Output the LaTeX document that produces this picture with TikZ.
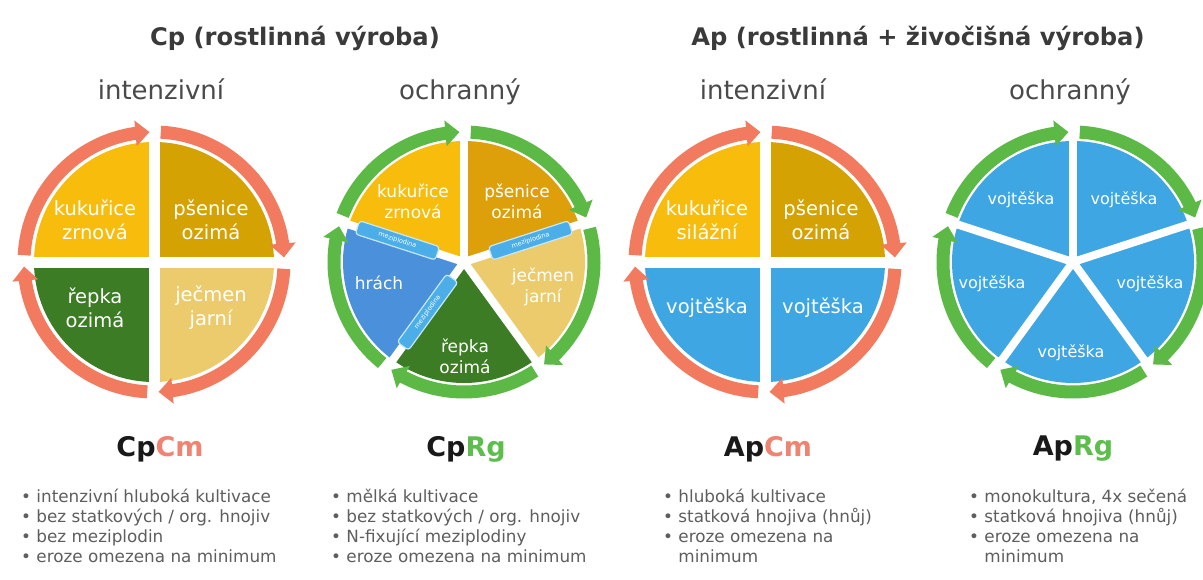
\documentclass[tikz,border=0pt]{standalone}
\usepackage{fontspec}
\setmainfont{DejaVu Sans}
\usetikzlibrary{arrows.meta,bending}
\definecolor{ringred}{HTML}{F27B5F}
\definecolor{ringgreen}{HTML}{5CB946}
\definecolor{kuk}{HTML}{F7BC0C}
\definecolor{pse}{HTML}{D4A203}
\definecolor{psetwo}{HTML}{DDA00A}
\definecolor{jec}{HTML}{ECCB6C}
\definecolor{rep}{HTML}{3B7C24}
\definecolor{vojt}{HTML}{3EA6E3}
\definecolor{hrach}{HTML}{4A90DA}
\definecolor{mezi}{HTML}{4CAEE9}
\definecolor{mezib}{HTML}{C4E8FB}
\definecolor{titlegray}{HTML}{3A3A3A}
\definecolor{subgray}{HTML}{4A4A4A}
\definecolor{bulgray}{HTML}{5E5E5E}
\definecolor{cmred}{HTML}{F08472}
\definecolor{rggreen}{HTML}{5DBE4E}
\newcommand{\myfs}[2]{\fontsize{#1}{#2}\selectfont}
\tikzset{
  ringarrow/.style={line width=13pt, -{Triangle[width=25pt,length=14pt]}},
  gapline/.style={white, line width=#1},
  title/.style={font=\bfseries\myfs{24.2}{28}, text=titlegray, inner sep=0, anchor=base},
  sub/.style={font=\myfs{26}{30}, text=subgray, inner sep=0, anchor=base},
  slicetxt/.style={font=\myfs{19.5}{24}, text=white, align=center, inner sep=0},
  slicetxtb/.style={font=\myfs{17}{21}, text=white, align=center, inner sep=0},
  slicetxtc/.style={font=\myfs{16}{20}, text=white, align=center, inner sep=0},
  mezilabel/.style={draw=mezib, fill=mezi, rounded corners=3pt, line width=1.2pt, minimum width=84pt, minimum height=14pt, inner sep=0, text=white, font=\myfs{6.5}{8}},
  head/.style={font=\bfseries\myfs{27}{30}, text=black!90, inner sep=0},
  bul/.style={font=\myfs{16.8}{20}, text=bulgray, anchor=base west, inner sep=0},
}
\begin{document}
\begin{tikzpicture}[x=1pt,y=-1pt]
\fill[white] (0,0) rectangle (1203,579);
\path[use as bounding box] (0,0) rectangle (1203,579);

% titles
\node[title] (t1) at (295,45) {Cp (rostlinná výroba)};
\node[title] (t2) at (918,45) {Ap (rostlinná + živočišná výroba)};
\node[sub] (s1) at (161,99) {intenzivní};
\node[sub] (s2) at (460,99) {ochranný};
\node[sub] (s3) at (763,99) {intenzivní};
\node[sub] (s4) at (1070,99) {ochranný};

% circle 1: CpCm
\begin{scope}[shift={(154,262)}, y=1pt]
  \fill[kuk] (0,0) -- (180:120) arc[start angle=180,end angle=90,radius=120] -- cycle;
  \fill[pse] (0,0) -- (90:120) arc[start angle=90,end angle=0,radius=120] -- cycle;
  \fill[jec] (0,0) -- (0:120) arc[start angle=0,end angle=-90,radius=120] -- cycle;
  \fill[rep] (0,0) -- (-90:120) arc[start angle=-90,end angle=-180,radius=120] -- cycle;
  \draw[gapline=11pt] (-126,0) -- (126,0);
  \draw[gapline=11pt] (0,-126) -- (0,126);
  \draw[ringarrow, ringred] (177:130) arc[start angle=177,end angle=92,radius=130];
  \draw[ringarrow, ringred] (87:130) arc[start angle=87,end angle=2,radius=130];
  \draw[ringarrow, ringred] (-3:130) arc[start angle=-3,end angle=-88,radius=130];
  \draw[ringarrow, ringred] (-93:130) arc[start angle=-93,end angle=-178,radius=130];
\end{scope}
\node[slicetxt] (c1a) at (95,220) {kukuřice\\zrnová};
\node[slicetxt] (c1b) at (211,220) {pšenice\\ozimá};
\node[slicetxt] (c1c) at (95,308) {řepka\\ozimá};
\node[slicetxt] (c1d) at (211,308) {ječmen\\jarní};

% circle 2: CpRg
\begin{scope}[shift={(464,262)}, y=1pt]
  \fill[kuk] (0,0) -- (162:121) arc[start angle=162,end angle=90,radius=121] -- cycle;
  \fill[psetwo] (0,0) -- (90:121) arc[start angle=90,end angle=18,radius=121] -- cycle;
  \fill[jec] (0,0) -- (18:121) arc[start angle=18,end angle=-54,radius=121] -- cycle;
  \fill[rep] (0,0) -- (-54:121) arc[start angle=-54,end angle=-126,radius=121] -- cycle;
  \fill[hrach] (0,0) -- (-126:121) arc[start angle=-126,end angle=-198,radius=121] -- cycle;
  \foreach \a in {90,18,-54,-126,162} \draw[gapline=8pt] (0,0) -- (\a:126);
  \draw[ringarrow, ringgreen] (159:130) arc[start angle=159,end angle=92,radius=130];
  \draw[ringarrow, ringgreen] (87:130) arc[start angle=87,end angle=20,radius=130];
  \draw[ringarrow, ringgreen] (15:130) arc[start angle=15,end angle=-52,radius=130];
  \draw[ringarrow, ringgreen] (-57:130) arc[start angle=-57,end angle=-124,radius=130];
  \draw[ringarrow, ringgreen] (-129:130) arc[start angle=-129,end angle=-196,radius=130];
  \node[mezilabel, rotate=-18] (m1) at (162:70) {meziplodina};
  \node[mezilabel, rotate=18] (m2) at (18:70) {meziplodina};
  \node[mezilabel, rotate=54] (m3) at (-126:62) {meziplodina};
\end{scope}
\node[slicetxtb] (c2a) at (413,201) {kukuřice\\zrnová};
\node[slicetxtb] (c2b) at (517,201) {pšenice\\ozimá};
\node[slicetxtb] (c2c) at (543,287) {ječmen\\jarní};
\node[slicetxtb] (c2d) at (465,356) {řepka\\ozimá};
\node[slicetxtb] (c2e) at (379,283) {hrách};

% circle 3: ApCm
\begin{scope}[shift={(765,262)}, y=1pt]
  \fill[kuk] (0,0) -- (180:120) arc[start angle=180,end angle=90,radius=120] -- cycle;
  \fill[pse] (0,0) -- (90:120) arc[start angle=90,end angle=0,radius=120] -- cycle;
  \fill[vojt] (0,0) -- (0:120) arc[start angle=0,end angle=-90,radius=120] -- cycle;
  \fill[vojt] (0,0) -- (-90:120) arc[start angle=-90,end angle=-180,radius=120] -- cycle;
  \draw[gapline=11pt] (-126,0) -- (126,0);
  \draw[gapline=11pt] (0,-126) -- (0,126);
  \draw[ringarrow, ringred] (177:130) arc[start angle=177,end angle=92,radius=130];
  \draw[ringarrow, ringred] (87:130) arc[start angle=87,end angle=2,radius=130];
  \draw[ringarrow, ringred] (-3:130) arc[start angle=-3,end angle=-88,radius=130];
  \draw[ringarrow, ringred] (-93:130) arc[start angle=-93,end angle=-178,radius=130];
\end{scope}
\node[slicetxt] (c3a) at (707,220) {kukuřice\\silážní};
\node[slicetxt] (c3b) at (821,220) {pšenice\\ozimá};
\node[slicetxt] (c3c) at (707,308) {vojtěška};
\node[slicetxt] (c3d) at (823,308) {vojtěška};

% circle 4: ApRg
\begin{scope}[shift={(1073,262)}, y=1pt]
  \foreach \s/\e in {162/90, 90/18, 18/-54, -54/-126, -126/-198}
    \fill[vojt] (0,0) -- (\s:121) arc[start angle=\s,end angle=\e,radius=121] -- cycle;
  \foreach \a in {90,18,-54,-126,162} \draw[gapline=8pt] (0,0) -- (\a:126);
  \draw[ringarrow, ringgreen] (159:130) arc[start angle=159,end angle=92,radius=130];
  \draw[ringarrow, ringgreen] (87:130) arc[start angle=87,end angle=20,radius=130];
  \draw[ringarrow, ringgreen] (15:130) arc[start angle=15,end angle=-52,radius=130];
  \draw[ringarrow, ringgreen] (-57:130) arc[start angle=-57,end angle=-124,radius=130];
  \draw[ringarrow, ringgreen] (-129:130) arc[start angle=-129,end angle=-196,radius=130];
\end{scope}
\node[slicetxtc] (c4a) at (1021,200) {vojtěška};
\node[slicetxtc] (c4b) at (1124,200) {vojtěška};
\node[slicetxtc] (c4c) at (1150,284) {vojtěška};
\node[slicetxtc] (c4d) at (1071,353) {vojtěška};
\node[slicetxtc] (c4e) at (992,284) {vojtěška};

% headings
\node[head] (h1) at (160,449) {Cp\textcolor{cmred}{Cm}};
\node[head] (h2) at (466,449) {Cp\textcolor{rggreen}{Rg}};
\node[head] (h3) at (768,449) {Ap\textcolor{cmred}{Cm}};
\node[head] (h4) at (1073,449) {Ap\textcolor{rggreen}{Rg}};

% bullet lists
\node[bul] (l1a) at (21,502) {• intenzivní hluboká kultivace};
\node[bul] (l1b) at (21,522) {• bez statkových / org. hnojiv};
\node[bul] (l1c) at (21,542) {• bez meziplodin};
\node[bul] (l1d) at (21,562) {• eroze omezena na minimum};
\node[bul] (l2a) at (331,502) {• mělká kultivace};
\node[bul] (l2b) at (331,522) {• bez statkových / org. hnojiv};
\node[bul] (l2c) at (331,542) {• N-fixující meziplodiny};
\node[bul] (l2d) at (331,562) {• eroze omezena na minimum};
\node[bul] (l3a) at (663,502) {• hluboká kultivace};
\node[bul] (l3b) at (663,522) {• statková hnojiva (hnůj)};
\node[bul] (l3c) at (663,542) {• eroze omezena na};
\node[bul] (l3d) at (663,562) {\phantom{• }minimum};
\node[bul] (l4a) at (969,502) {• monokultura, 4x sečená};
\node[bul] (l4b) at (969,522) {• statková hnojiva (hnůj)};
\node[bul] (l4c) at (969,542) {• eroze omezena na};
\node[bul] (l4d) at (969,562) {\phantom{• }minimum};
\end{tikzpicture}
\end{document}
